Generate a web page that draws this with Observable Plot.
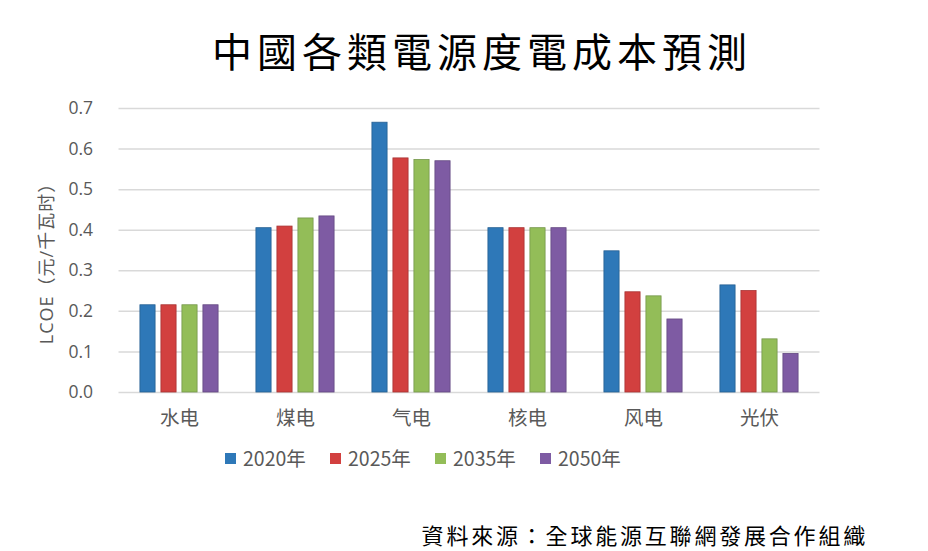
<!DOCTYPE html>
<html>
<head>
<meta charset="utf-8">
<script src="https://cdn.jsdelivr.net/npm/d3@7"></script>
<script src="https://cdn.jsdelivr.net/npm/@observablehq/plot@0.6"></script>
<style>
  html, body { margin: 0; padding: 0; background: #fff; }
  body { width: 928px; height: 551px; position: relative; overflow: hidden; font-family: "Noto Sans CJK TC", "Noto Sans", sans-serif; }
  #title { position: absolute; left: 0; top: 22px; width: 928px; padding-left: 36px; box-sizing: border-box; text-align: center; font-size: 40px; letter-spacing: 5px; color: #000; line-height: 56px; font-family: "Noto Sans CJK TC", serif; }
  #chart { position: absolute; left: 0; top: 90px; }
  #ylabel { position: absolute; left: 45px; top: 259px; transform: translate(-50%, -50%) rotate(-90deg); white-space: nowrap; font-size: 18px; letter-spacing: 1px; color: #595959; font-family: "Open Sans", "Noto Sans CJK SC", sans-serif; }
  #legend { position: absolute; left: 225px; top: 444px; display: flex; font-size: 19.5px; color: #595959; line-height: 28px; font-family: "Noto Sans CJK SC", sans-serif; }
  #legend .item { display: flex; align-items: center; gap: 7px; width: 105px; }
  #legend .sw { width: 11px; height: 11px; display: inline-block; }
  #caption { position: absolute; right: 60px; top: 521px; font-size: 22px; letter-spacing: 2.8px; color: #000; line-height: 26px; font-family: "Noto Sans CJK TC", serif; }
</style>
</head>
<body>
<div id="title">中國各類電源度電成本預測</div>
<div id="chart"></div>
<div id="ylabel"></div>
<div id="legend"></div>
<div id="caption">資料來源：全球能源互聯網發展合作組織</div>
<script>
const categories = ["水电", "煤电", "气电", "核电", "风电", "光伏"];
const years = ["2020年", "2025年", "2035年", "2050年"];
const v2020 = [0.215, 0.405, 0.665, 0.405, 0.348, 0.264];
const v2025 = [0.215, 0.409, 0.577, 0.405, 0.247, 0.250];
const v2035 = [0.215, 0.429, 0.573, 0.405, 0.237, 0.131];
const v2050 = [0.215, 0.434, 0.570, 0.405, 0.180, 0.095];
const yTicks = [0, 0.1, 0.2, 0.3, 0.4, 0.5, 0.6, 0.7];
const colors = ["#2E78B8", "#D2403F", "#93BD58", "#7E5BA3"];
const strokes = ["#255F92", "#A83232", "#74964A", "#634881"];
const yLabel = "LCOE（元/千瓦时）";

const series = [v2020, v2025, v2035, v2050];
const data = [];
years.forEach((yr, i) => categories.forEach((c, j) => data.push({category: c, year: yr, value: series[i][j]})));

const width = 928, marginLeft = 118.5, marginRight = 108.5;
const bw = (width - marginLeft - marginRight) / categories.length;
const barW = 16, step = 21;
const groupW = step * (years.length - 1) + barW;
const offset0 = (bw - groupW) / 2;

const barMarks = years.map((yr, i) => Plot.barY(data.filter(d => d.year === yr), {
  x: "category", y: "value",
  fill: colors[i], stroke: strokes[i], strokeWidth: 0.8,
  insetLeft: offset0 + step * i,
  insetRight: bw - (offset0 + step * i + barW)
}));

const chart = Plot.plot({
  width, height: 350,
  marginTop: 18, marginBottom: 48, marginLeft, marginRight,
  style: {fontFamily: "'Open Sans', 'Noto Sans CJK SC', sans-serif", color: "#595959", background: "#fff"},
  x: {domain: categories, padding: 0, label: null},
  y: {domain: [0, 0.7], label: null},
  marks: [
    Plot.ruleY(yTicks, {stroke: "#d9d9d9", strokeWidth: 1.5}),
    ...barMarks,
    Plot.axisX({tickSize: 0, tickPadding: 19, fontSize: 19.5, fill: "#595959", fontFamily: "'Noto Sans CJK SC', sans-serif", label: null}),
    Plot.axisY({ticks: yTicks, tickFormat: d3.format(".1f"), tickSize: 0, tickPadding: 26, fontSize: 17.5, fill: "#595959", label: null})
  ]
});
document.getElementById("chart").appendChild(chart);
document.getElementById("ylabel").textContent = yLabel;

const legend = document.getElementById("legend");
years.forEach((yr, i) => {
  const it = document.createElement("span");
  it.className = "item";
  const sw = document.createElement("span");
  sw.className = "sw";
  sw.style.background = colors[i];
  it.appendChild(sw);
  const t = document.createElement("span");
  t.textContent = yr;
  it.appendChild(t);
  legend.appendChild(it);
});
</script>
</body>
</html>
